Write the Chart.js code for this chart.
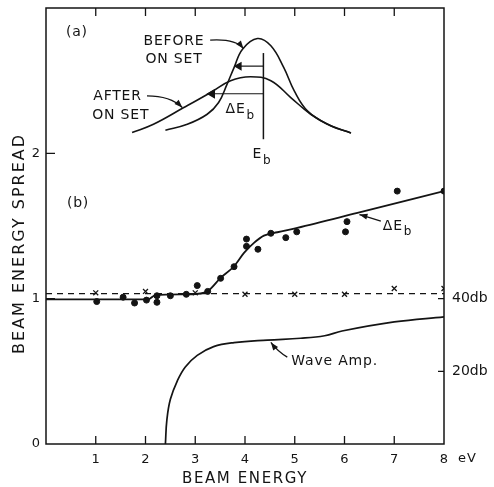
<!DOCTYPE html>
<html>
<head>
<meta charset="utf-8">
<script src="https://cdn.jsdelivr.net/npm/chart.js@4.4.0/dist/chart.umd.min.js"></script>
<style>
  html, body { margin: 0; padding: 0; background: #fff; }
  .chart-box { width: 494px; height: 487px; }
</style>
</head>
<body>
<div class="chart-box"><canvas id="myChart" width="494" height="487"></canvas></div>
<script>
"use strict"

// (b) beam energy spread vs beam energy (eV)
const fitX = [0, 2.05, 2.2, 2.9, 3.24, 3.51, 3.78, 3.98, 4.18, 4.38, 4.65, 5.05, 6.26, 8]
const fitY = [0.995, 0.995, 1.025, 1.03, 1.05, 1.143, 1.223, 1.315, 1.384, 1.434, 1.457, 1.487, 1.59, 1.74]

const dotX = [1.02, 1.55, 1.78, 2.02, 2.23, 2.23, 2.5, 2.82, 3.04, 3.25, 3.51, 3.78, 4.03, 4.03, 4.26, 4.52, 4.82, 5.04, 6.02, 6.05, 7.06, 8.0]
const dotY = [0.98, 1.01, 0.97, 0.99, 0.975, 1.02, 1.02, 1.03, 1.09, 1.05, 1.14, 1.22, 1.41, 1.36, 1.34, 1.45, 1.42, 1.46, 1.46, 1.53, 1.74, 1.74]

// x marks on the dashed 40 db reference line
const crossX = [1, 2, 3, 4, 5, 6, 7, 8]
const crossY = [1.04, 1.05, 1.04, 1.03, 1.03, 1.03, 1.07, 1.07]
const dashX = [0, 8]
const dashY = [1.035, 1.035]

// wave amplitude, right axis in db
const waveX = [2.40, 2.43, 2.50, 2.64, 2.80, 3.04, 3.37, 3.78, 4.45, 5.12, 5.6, 5.95, 7.0, 8.0]
const waveDb = [0, 6.7, 12.3, 17.4, 21.2, 24.4, 26.8, 27.9, 28.6, 29.1, 29.8, 31.1, 33.6, 35.0]

// (a) inset: distributions before / after onset
const beforeX = [2.40, 2.84, 3.24, 3.47, 3.64, 3.78, 3.95, 4.25, 4.52, 4.78, 4.99, 5.26, 5.66, 6.13]
const beforeY = [2.159, 2.20, 2.269, 2.35, 2.476, 2.59, 2.717, 2.79, 2.74, 2.59, 2.43, 2.29, 2.20, 2.14]
const afterX = [1.73, 2.16, 2.77, 3.31, 3.71, 4.11, 4.52, 4.92, 5.32, 5.73, 6.13]
const afterY = [2.143, 2.20, 2.315, 2.419, 2.50, 2.527, 2.50, 2.384, 2.269, 2.188, 2.14]
const ebX = [4.37, 4.37]
const ebY = [2.097, 2.69]
const arrowTopX = [4.37, 3.88]
const arrowTopY = [2.60, 2.60]
const arrowLowX = [4.37, 3.34]
const arrowLowY = [2.41, 2.41]

// tick labels
const xTicks = [1, 2, 3, 4, 5, 6, 7, 8]
const yTicks = [0, 1, 2]
const dbTicks = [20, 40]

// text notes (data units of the left axis)
const noteText = ['(a)', 'BEFORE', 'ON SET', 'AFTER', 'ON SET', 'ΔE|b', 'E|b', '(b)', 'ΔE|b', 'Wave Amp.']
const noteX = [0.40, 1.96, 2.0, 0.95, 0.93, 3.61, 4.15, 0.42, 6.77, 4.93]
const noteY = [2.83, 2.77, 2.65, 2.39, 2.26, 2.30, 1.99, 1.655, 1.50, 0.566]

// leader arrows: from, control, to
const leaders = [
    [[3.30, 2.779], [3.81, 2.79], [3.97, 2.72]],
    [[2.03, 2.395], [2.50, 2.395], [2.74, 2.315]],
    [[6.73, 1.533], [6.5, 1.56], [6.30, 1.579]],
    [[4.85, 0.598], [4.66, 0.635], [4.52, 0.699]],
]

const INK = '#141414'
const FONT = '"DejaVu Sans", sans-serif'

function pts(xs, ys) {
    return xs.map((x, i) => ({ x: x, y: ys[i] }))
}

function lineSet(xs, ys, extra) {
    return Object.assign({
        data: pts(xs, ys),
        showLine: true,
        borderColor: INK,
        borderWidth: 1.7,
        pointRadius: 0,
        fill: false,
    }, extra)
}

// no extra label padding around the plot box
function fixBox(size) {
    return s => {
        if (s.isHorizontal()) s.height = size
        else s.width = size
        s.paddingTop = 0
        s.paddingBottom = 0
        s.paddingLeft = 0
        s.paddingRight = 0
    }
}

const frameAndNotes = {
    id: 'frameAndNotes',
    afterDatasetsDraw(chart) {
        const { ctx, chartArea: a, scales } = chart
        const x = scales.x, y = scales.y, y2 = scales.y2
        ctx.save()
        ctx.strokeStyle = INK
        ctx.fillStyle = INK
        ctx.lineWidth = 1.5
        ctx.strokeRect(a.left, a.top, a.right - a.left, a.bottom - a.top)

        // inward tick marks
        ctx.lineWidth = 1.3
        ctx.beginPath()
        for (let v = 1; v <= 7; v++) {
            const px = x.getPixelForValue(v)
            ctx.moveTo(px, a.bottom); ctx.lineTo(px, a.bottom - 8)
            ctx.moveTo(px, a.top); ctx.lineTo(px, a.top + 8)
        }
        ;[1, 2].forEach(v => {
            const py = y.getPixelForValue(v)
            ctx.moveTo(a.left, py); ctx.lineTo(a.left + 9, py)
        })
        dbTicks.forEach(v => {
            const py = y2.getPixelForValue(v)
            ctx.moveTo(a.right, py); ctx.lineTo(a.right - 6, py)
        })
        ctx.stroke()

        // notes
        ctx.textBaseline = 'middle'
        ctx.textAlign = 'left'
        noteText.forEach((t, i) => {
            const px = x.getPixelForValue(noteX[i])
            const py = y.getPixelForValue(noteY[i])
            const parts = t.split('|')
            ctx.font = '14px ' + FONT
            ctx.letterSpacing = '0.8px'
            ctx.fillText(parts[0], px, py)
            if (parts[1]) {
                const w = ctx.measureText(parts[0]).width
                ctx.font = '12px ' + FONT
                ctx.fillText(parts[1], px + w + 1, py + 6)
            }
        })

        // leader arrows
        ctx.lineWidth = 1.3
        ctx.letterSpacing = '0px'
        leaders.forEach(l => {
            const p = l.map(q => [x.getPixelForValue(q[0]), y.getPixelForValue(q[1])])
            ctx.beginPath()
            ctx.moveTo(p[0][0], p[0][1])
            ctx.quadraticCurveTo(p[1][0], p[1][1], p[2][0], p[2][1])
            ctx.stroke()
            const ang = Math.atan2(p[2][1] - p[1][1], p[2][0] - p[1][0])
            const L = 8, W = 3
            ctx.beginPath()
            ctx.moveTo(p[2][0], p[2][1])
            ctx.lineTo(p[2][0] - L * Math.cos(ang) + W * Math.sin(ang), p[2][1] - L * Math.sin(ang) - W * Math.cos(ang))
            ctx.lineTo(p[2][0] - L * Math.cos(ang) - W * Math.sin(ang), p[2][1] - L * Math.sin(ang) + W * Math.cos(ang))
            ctx.closePath()
            ctx.fill()
        })

        // axis titles
        ctx.font = '15px ' + FONT
        ctx.letterSpacing = '1.6px'
        ctx.textAlign = 'center'
        ctx.fillText('BEAM ENERGY', x.getPixelForValue(4) , 479)
        ctx.font = '13px ' + FONT
        ctx.letterSpacing = '1px'
        ctx.textAlign = 'left'
        ctx.fillText('eV', x.getPixelForValue(8) + 14, 459)

        ctx.translate(20, y.getPixelForValue(1.38))
        ctx.rotate(-Math.PI / 2)
        ctx.font = '16px ' + FONT
        ctx.letterSpacing = '2px'
        ctx.textAlign = 'center'
        ctx.fillText('BEAM ENERGY SPREAD', 0, 0)
        ctx.restore()
    }
}

function drawChart() {
    const ctx = document.getElementById('myChart').getContext('2d')
    const tickFont = { family: FONT, size: 13 }

    return new Chart(ctx, {
        type: 'scatter',
        data: {
            datasets: [
                lineSet(fitX, fitY, { cubicInterpolationMode: 'monotone', borderWidth: 1.8 }),
                lineSet(dashX, dashY, { borderDash: [6, 5], borderWidth: 1.3 }),
                {
                    data: pts(dotX, dotY),
                    pointRadius: 3,
                    pointBackgroundColor: INK,
                    pointBorderColor: INK,
                },
                {
                    data: pts(crossX, crossY),
                    pointStyle: 'crossRot',
                    pointRadius: 3.5,
                    pointBorderWidth: 1.3,
                    pointBorderColor: INK,
                },
                lineSet(waveX, waveDb, { yAxisID: 'y2', tension: 0.4 }),
                lineSet(beforeX, beforeY, { tension: 0.4, borderWidth: 1.6 }),
                lineSet(afterX, afterY, { tension: 0.4, borderWidth: 1.6 }),
                lineSet(ebX, ebY, { borderWidth: 1.5 }),
                lineSet(arrowTopX, arrowTopY, {
                    borderWidth: 1.2, pointRadius: [0, 4], pointStyle: 'triangle',
                    pointRotation: 270, pointBackgroundColor: INK, pointBorderColor: INK,
                }),
                lineSet(arrowLowX, arrowLowY, {
                    borderWidth: 1.2, pointRadius: [0, 4.5], pointStyle: 'triangle',
                    pointRotation: 270, pointBackgroundColor: INK, pointBorderColor: INK,
                }),
            ]
        },
        options: {
            responsive: false,
            animation: false,
            layout: { padding: { top: 8 } },
            plugins: {
                legend: { display: false },
                tooltip: { enabled: false },
            },
            scales: {
                x: {
                    type: 'linear',
                    min: 0,
                    max: 8,
                    afterFit: fixBox(43),
                    afterBuildTicks: s => { s.ticks = xTicks.map(v => ({ value: v })) },
                    grid: { display: false, drawTicks: false },
                    border: { display: false },
                    ticks: { color: INK, font: tickFont, padding: 8, maxRotation: 0 },
                },
                y: {
                    min: 0,
                    max: 3,
                    afterFit: fixBox(46),
                    afterBuildTicks: s => { s.ticks = yTicks.map(v => ({ value: v })) },
                    grid: { display: false, drawTicks: false },
                    border: { display: false },
                    ticks: { color: INK, font: tickFont, padding: 6 },
                },
                y2: {
                    position: 'right',
                    min: 0,
                    max: 120,
                    afterFit: fixBox(50),
                    afterBuildTicks: s => { s.ticks = dbTicks.map(v => ({ value: v })) },
                    grid: { display: false, drawTicks: false },
                    border: { display: false },
                    ticks: { color: INK, font: { family: FONT, size: 14 }, padding: 8, callback: v => v + 'db' },
                },
            },
        },
        plugins: [frameAndNotes],
    })
}

drawChart()
</script>
</body>
</html>
